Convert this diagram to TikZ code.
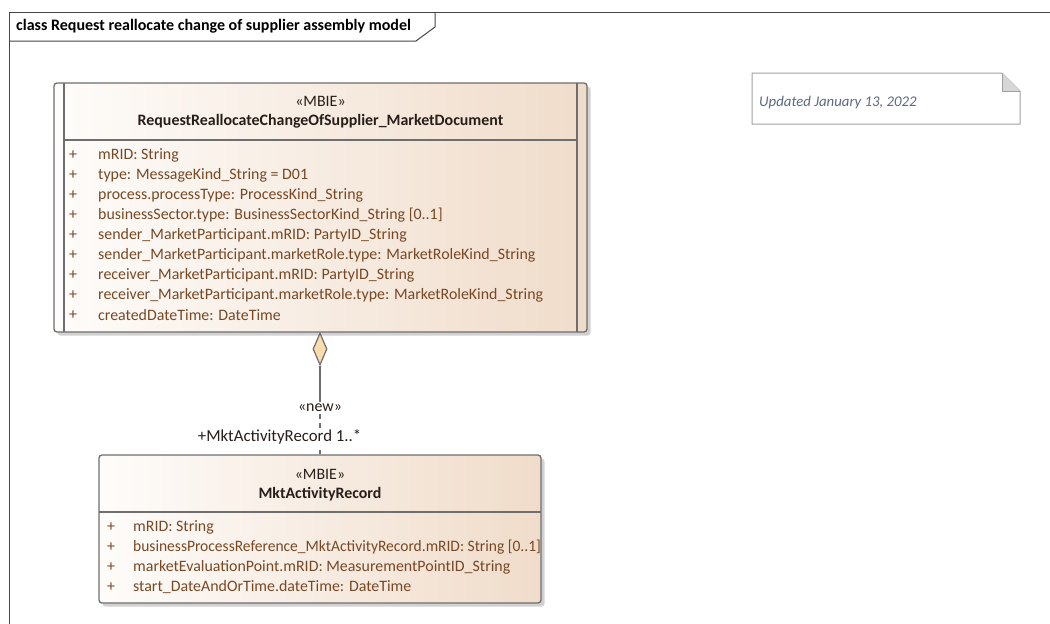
\documentclass[tikz,border=0pt]{standalone}
\usepackage{fontspec}
\setmainfont{Carlito}
\usetikzlibrary{shapes.geometric}
\definecolor{framegray}{RGB}{70,70,70}
\definecolor{boxline}{RGB}{110,110,110}
\definecolor{tanright}{RGB}{240,220,202}
\definecolor{tanleft}{RGB}{254,252,250}
\definecolor{attrtext}{RGB}{120,72,36}
\definecolor{headtext}{RGB}{40,30,25}
\definecolor{diafill}{RGB}{250,220,175}
\definecolor{notetext}{RGB}{95,105,130}
\definecolor{notefold}{RGB}{215,215,215}
\definecolor{noteline}{RGB}{160,160,160}
\tikzset{
  classbox/.style={draw=boxline, line width=1.3pt, rounded corners=3pt, left color=tanleft, right color=tanright, inner sep=0pt},
  shadowbox/.style={fill=black, opacity=0.18, rounded corners=3pt, draw=none, inner sep=0pt},
  innerline/.style={draw=boxline, line width=1.3pt},
  attr/.style={anchor=west, text=attrtext, font=\fontsize{15.9}{17}\selectfont, inner sep=0pt},
  stereo/.style={text=headtext, font=\fontsize{15.9}{17}\selectfont, inner sep=0pt},
  cname/.style={text=headtext, font=\bfseries\fontsize{15.9}{17}\selectfont, inner sep=0pt},
  conn/.style={draw=boxline, line width=1.3pt},
  conlabel/.style={text=headtext, font=\fontsize{15.9}{17}\selectfont, fill=white, inner sep=1.5pt},
}
\begin{document}
\begin{tikzpicture}[x=1pt,y=-1pt]
\useasboundingbox[fill=white] (0,0) rectangle (1050,624);
% frame
\draw[framegray, line width=1pt] (9,624) -- (9,12) -- (1050,12);
\draw[framegray, line width=1pt] (9,41) -- (416,41) -- (435,27) -- (435,12);
\node[anchor=west, inner sep=0pt, font=\bfseries\fontsize{16}{18}\selectfont] (title) at (16,26) {class Request reallocate change of supplier assembly model};

% main class shadow and box
\node[shadowbox, minimum width=533pt, minimum height=249pt] at (324,211) {};
\node[classbox, minimum width=533pt, minimum height=249pt] (doc) at (320.5,207.5) {};
\draw[innerline] (64,83) -- (64,332);
\draw[innerline] (577,83) -- (577,332);
\draw[innerline] (64,140) -- (577,140);
\node[stereo] (docst) at (320.5,101) {«MBIE»};
\node[cname] (docname) at (320.5,121) {RequestReallocateChangeOfSupplier\_MarketDocument};
\foreach \i/\t in {0/{mRID: String},
  1/{type: MessageKind\_String = D01},
  2/{process.processType: ProcessKind\_String},
  3/{businessSector.type: BusinessSectorKind\_String [0..1]},
  4/{sender\_MarketParticipant.mRID: PartyID\_String},
  5/{sender\_MarketParticipant.marketRole.type: MarketRoleKind\_String},
  6/{receiver\_MarketParticipant.mRID: PartyID\_String},
  7/{receiver\_MarketParticipant.marketRole.type: MarketRoleKind\_String},
  8/{createdDateTime: DateTime}}{
  \node[attr] (docp\i) at (69,155+20*\i) {+};
  \node[attr] (doca\i) at (98,155+20*\i) {\t};
}

% record class shadow and box
\node[shadowbox, minimum width=442pt, minimum height=148pt] at (323.5,532.5) {};
\node[classbox, minimum width=442pt, minimum height=148pt] (rec) at (320,529) {};
\draw[innerline] (99,512) -- (541,512);
\node[stereo] (recst) at (320,474) {«MBIE»};
\node[cname] (recname) at (320,494) {MktActivityRecord};
\foreach \i/\t in {0/{mRID: String},
  1/{\scalebox{0.975}[1]{businessProcessReference\_MktActivityRecord.mRID: String [0..1]}},
  2/{marketEvaluationPoint.mRID: MeasurementPointID\_String},
  3/{start\_DateAndOrTime.dateTime: DateTime}}{
  \node[attr] (recp\i) at (107,527+20*\i) {+};
  \node[attr] (reca\i) at (133,527+20*\i) {\t};
}

% aggregation connector
\node[diamond, draw=boxline, line width=1.2pt, fill=diafill, minimum width=14pt, minimum height=32pt, inner sep=0pt] (dia) at (320,349) {};
\node[conlabel] (newl) at (320,408) {«new»};
\draw[conn] (dia.south) -- (newl.north);
\draw[conn, dashed, dash pattern=on 5pt off 4pt] (newl.south) -- (rec.north);
\node[conlabel, anchor=east, font=\fontsize{16.8}{18}\selectfont] (mult) at (363,437) {+MktActivityRecord 1..*};

% note
\node[draw=none, minimum width=268pt, minimum height=51pt, inner sep=0pt] (note) at (886,98.5) {};
\draw[noteline, line width=1pt] (752,73) -- (1002,73) -- (1020,91) -- (1020,124) -- (752,124) -- cycle;
\fill[notefold] (1002,73) -- (1002,91) -- (1020,91) -- cycle;
\draw[noteline, line width=1pt] (1002,73) -- (1002,91) -- (1020,91);
\node[anchor=west, inner sep=0pt, text=notetext, font=\itshape\fontsize{14.8}{16}\selectfont] (notetxt) at (759,103) {Updated January 13, 2022};
\end{tikzpicture}
\end{document}
